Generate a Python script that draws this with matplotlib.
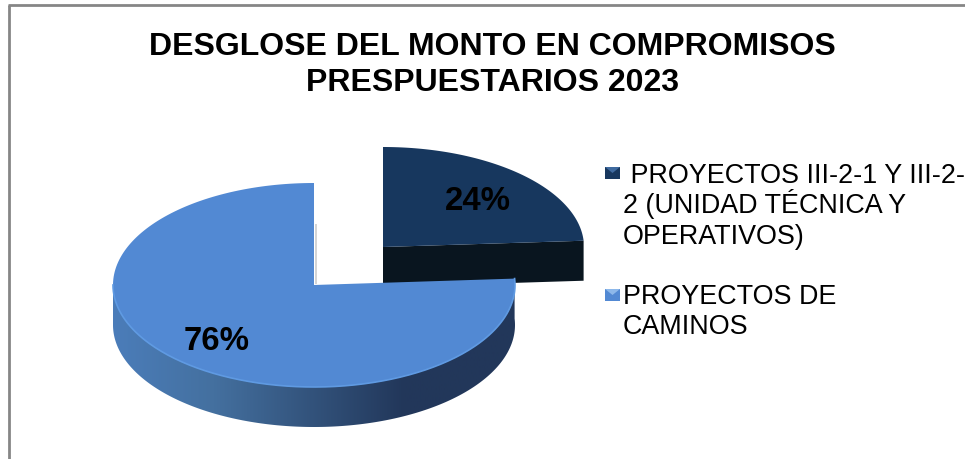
import numpy as np
import matplotlib
matplotlib.use('Agg')
import matplotlib.pyplot as plt
from matplotlib.colors import LinearSegmentedColormap
from matplotlib.patches import Polygon

plt.rcParams['font.family'] = ['Liberation Sans', 'DejaVu Sans']

# Chart data
title = 'DESGLOSE DEL MONTO EN COMPROMISOS\nPRESPUESTARIOS 2023'
categories = [[' PROYECTOS III-2-1 Y III-2-', '2 (UNIDAD TÉCNICA Y', 'OPERATIVOS)'],
              ['PROYECTOS DE', 'CAMINOS']]
shares = [24, 76]
share_labels = ['24%', '76%']

# pie layout, in pixels of the picture
depth = 40
center_dark = (383, 248)
center_big = (314, 286)
radius_dark = (201, 100)
radius_big = (201, 102)


def arc(center, radius, t1, t2, dy=0):
    t = np.radians(np.linspace(t1, t2, 200))
    return np.column_stack([center[0] + radius[0]*np.cos(t),
                            center[1] - radius[1]*np.sin(t) + dy])


fig = plt.figure(figsize=(9.65, 4.6), dpi=100)
ax = fig.add_axes([0, 0, 1, 1])
ax.set_xlim(0, 965)
ax.set_ylim(460, 0)
ax.axis('off')

# chart frame
ax.plot([9, 9], [460, 6], color='#868686', lw=2, solid_capstyle='butt')
ax.plot([8, 965], [6, 6], color='#868686', lw=2, solid_capstyle='butt')

# angles come from the shares, clockwise from the top
end_angle = 90 - 360*shares[0]/sum(shares)

# dark slice, moved out from the pie
edge = arc(center_dark, radius_dark, end_angle, end_angle)[0]
wall = [center_dark, edge, (edge[0], edge[1] + depth),
        (center_dark[0], center_dark[1] + depth)]
ax.add_patch(Polygon(wall, closed=True, fc='#09151f', ec='none', zorder=2))
top = np.vstack([[center_dark], arc(center_dark, radius_dark, 90, end_angle)])
ax.add_patch(Polygon(top, closed=True, fc='#17375e', ec='none', zorder=3))

# wall of the cut in the big slice
ax.fill_betweenx([225, 285], 315, 317, color='#d5d5d5', lw=0, zorder=3)

# big slice, front wall with a gradient
front = arc(center_big, radius_big, end_angle, -180)
back = arc(center_big, radius_big, -180, end_angle, dy=depth)
wall_poly = Polygon(np.vstack([front, back]), closed=True, fc='none', ec='none', zorder=4)
ax.add_patch(wall_poly)
side_cmap = LinearSegmentedColormap.from_list(
    'side', [(0, '#4b7dba'), (0.25, '#44709f'), (0.72, '#22375a'), (1, '#22375a')])
grad = ax.imshow(np.linspace(0, 1, 256).reshape(1, -1), cmap=side_cmap, aspect='auto',
                 extent=(112, 518, 460, 0), zorder=4)
grad.set_clip_path(wall_poly)
ax.set_xlim(0, 965)
ax.set_ylim(460, 0)

top = np.vstack([[center_big], arc(center_big, radius_big, end_angle, -270)])
ax.add_patch(Polygon(top, closed=True, fc='#5289d3', ec='none', zorder=5))
rim = arc(center_big, radius_big, end_angle, -180)
ax.plot(rim[:, 0], rim[:, 1], color='#5f9ae2', lw=1.2, zorder=6)

# value labels
label_pos = [(478, 202), (217, 342)]
for (x, y), txt in zip(label_pos, share_labels):
    ax.text(x, y, txt, fontsize=23.7, fontweight='bold', color='black',
            ha='center', va='center', zorder=7)

ax.text(492, 65, title, fontsize=23, fontweight='bold', color='black', ha='center',
        va='center', linespacing=1.25)

# legend
legend_y = [174, 296]
legend_baseline = [183, 304]
legend_fill = ['#17375e', '#5289d3']
legend_light = ['#3f6a9f', '#8db8ea']
for i, lines in enumerate(categories):
    y = legend_y[i]
    ax.add_patch(Polygon([(605, y-6), (620, y-6), (620, y+6), (605, y+6)], closed=True,
                         fc=legend_fill[i], ec='none'))
    ax.add_patch(Polygon([(605, y-6), (620, y-6), (612.5, y)], closed=True,
                         fc=legend_light[i], ec='none'))
    for j, line in enumerate(lines):
        ax.text(623, legend_baseline[i] + j*30.5, line, fontsize=19.4, color='black',
                ha='left', va='baseline')

plt.savefig('out.png', dpi=100)
